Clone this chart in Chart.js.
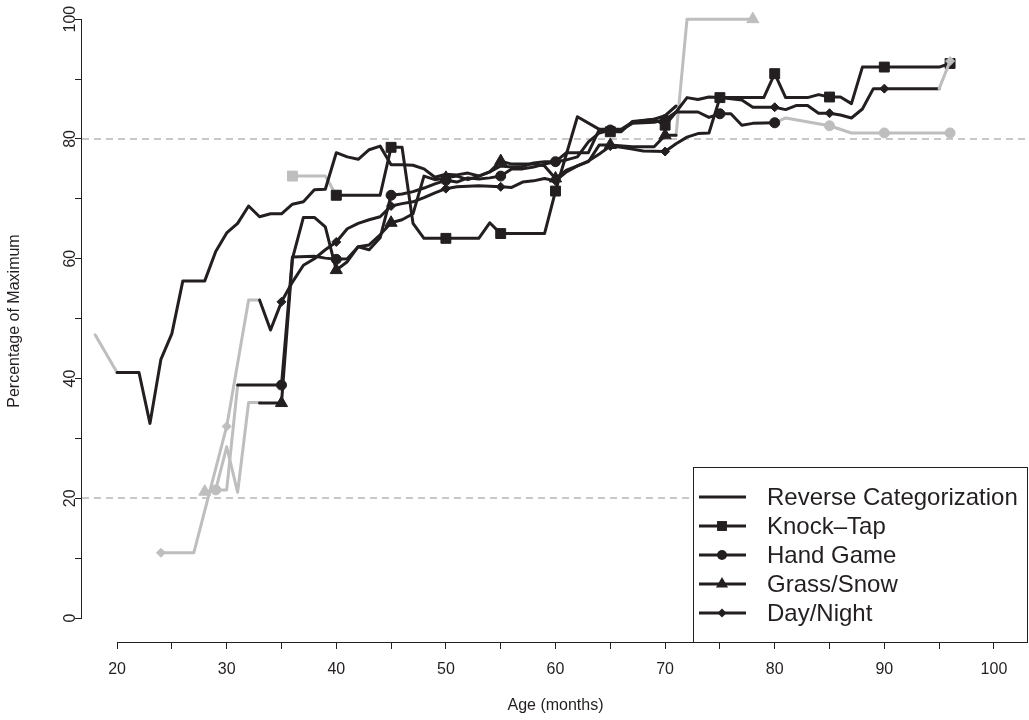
<!DOCTYPE html>
<html>
<head>
<meta charset="utf-8">
<script src="https://cdn.jsdelivr.net/npm/chart.js@4.4.1/dist/chart.umd.min.js"></script>
<style>
  html, body { margin: 0; padding: 0; background: #fff; overflow: hidden; }
  #wrap { position: relative; width: 1029px; height: 720px; }
</style>
</head>
<body>
<div id="wrap"><canvas id="myChart"></canvas></div>
<script>
// ---- data (age in months, percentage of maximum) ----
const categories = ['Reverse Categorization', 'Knock\u2013Tap', 'Hand Game', 'Grass/Snow', 'Day/Night'];

// Reverse Categorization
const rcGreyAge = [18, 20];
const rcGreyVal = [47.3, 41.0];
const rcAge = [20, 22, 23, 24, 25, 26, 28, 29, 30, 31, 32, 33, 34, 35, 36, 37, 38, 39, 40, 41, 42, 43, 44, 45, 46, 47, 48, 49, 50, 51, 52, 53, 54, 55, 56, 57, 58, 59, 60, 61, 63, 64, 66, 67, 69, 70, 71];
const rcVal = [41, 41, 32.5, 43.2, 47.5, 56.3, 56.3, 61.2, 64.3, 65.9, 68.8, 67, 67.5, 67.5, 69.1, 69.5, 71.5, 71.6, 77.7, 77, 76.6, 78.2, 78.8, 75.7, 75.7, 75.6, 75, 73.6, 74.1, 74, 74.3, 73.8, 74.5, 75.5, 75.3, 75.4, 76, 76.2, 76.2, 77.7, 77.7, 81.6, 81.6, 82.8, 83.3, 83.9, 85.5];

// Knock-Tap
const ktGreyAge = [36, 39, 40];
const ktGreyVal = [73.8, 73.8, 70.6];
const ktAge = [40, 44, 45, 46, 47, 48, 50, 53, 54, 55, 59, 60, 62, 64, 65, 66, 67, 69, 70, 71, 72, 73, 74, 75, 79, 80, 81, 83, 84, 85, 86, 87, 88, 90, 95, 96];
const ktVal = [70.6, 70.6, 78.6, 78.6, 65.9, 63.4, 63.4, 63.4, 66, 64.2, 64.2, 71.3, 83.7, 81.6, 81.2, 81.2, 82.9, 83.3, 82.3, 84.5, 86.9, 86.6, 87, 86.9, 86.9, 90.9, 86.9, 86.9, 87.4, 87, 87, 85.9, 92, 92, 92, 92.6];
const ktMarks = [36, 40, 45, 50, 55, 60, 65, 70, 75, 80, 85, 90, 96];

// Hand Game
const hgGreyAge = [29, 30, 31];
const hgGreyVal = [21.4, 21.4, 38.9];
const hgAge = [31, 35, 36, 38, 39, 40, 41, 42, 43, 44, 45, 46, 47, 48, 49, 50, 51, 52, 53, 54, 55, 56, 57, 58, 59, 60, 61, 62, 63, 64, 65, 66, 67, 68, 69, 70, 71, 73, 74, 75, 76, 77, 78, 80];
const hgVal = [38.9, 38.9, 60.3, 60.4, 60.1, 59.9, 60, 62, 61.5, 63.5, 70.6, 70.8, 71.2, 71.8, 72.5, 73.1, 72.8, 73.5, 73.3, 73.5, 73.8, 75, 75, 75.3, 75.8, 76.2, 76.5, 77, 79.5, 81, 81.5, 81.5, 82.6, 82.7, 82.8, 83.2, 84.5, 84.5, 83.6, 84.2, 84.2, 82.3, 82.6, 82.7];
const hgLateAge = [80, 81, 85, 87, 90, 96];
const hgLateVal = [82.7, 83.5, 82.2, 81, 81, 81];
const hgMarks = [29, 35, 40, 45, 50, 55, 60, 65, 70, 75, 80, 85, 90, 96];

// Grass/Snow
const gsGreyAge = [28, 29, 30, 31, 32, 33];
const gsGreyVal = [21.1, 21.4, 28.6, 21, 36, 36];
const gsAge = [33, 35, 36, 37, 38, 39, 40, 41, 42, 43, 44, 45, 46, 47, 48, 49, 50, 51, 52, 53, 54, 55, 56, 58, 59, 60, 61, 63, 64, 65, 67, 69, 70, 71];
const gsVal = [35.9, 35.9, 60, 66.9, 66.9, 65.3, 58.1, 59.5, 62, 62.3, 64, 66, 66.5, 67.5, 73.8, 73.2, 73.5, 73.8, 73.2, 73.8, 74.5, 76.3, 75.8, 75.8, 75.5, 73.4, 74.8, 76.2, 79, 79, 78.7, 78.7, 80.6, 80.6];
const gsLateAge = [71, 72, 78];
const gsLateVal = [80.6, 100, 100];
const gsMarks = [28, 35, 40, 45, 50, 55, 60, 65, 70, 78];

// Day/Night
const dnGreyAge = [24, 27, 30, 32, 33];
const dnGreyVal = [10.9, 10.9, 32, 53.1, 53.1];
const dnAge = [33, 34, 35, 36, 37, 38, 39, 40, 41, 42, 43, 44, 45, 46, 47, 48, 49, 50, 51, 53, 55, 56, 57, 58, 59, 60, 61, 62, 63, 64, 65, 66, 67, 68, 70, 71, 72, 73, 74, 75, 77, 78, 80, 81, 82, 83, 84, 85, 86, 87, 88, 89, 90, 95];
const dnVal = [53.1, 48.1, 52.8, 56.1, 58.9, 60, 61.5, 62.8, 65, 65.9, 66.5, 67, 68.8, 69.2, 69.5, 70.2, 71, 71.7, 72, 72.2, 72, 71.9, 72.8, 73, 73.4, 73, 74.5, 75.5, 76.3, 77.5, 78.8, 78.6, 78.3, 78, 77.9, 79.2, 80.3, 80.9, 81, 86.9, 86.5, 85.3, 85.3, 84.9, 85.6, 85.6, 84.3, 84.3, 84, 83.5, 85, 88.4, 88.4, 88.4];
const dnLateAge = [95, 96];
const dnLateVal = [88.4, 93];
const dnMarks = [24, 30, 35, 40, 45, 50, 55, 60, 65, 70, 75, 80, 85, 90, 96];

const xTicks = [20, 25, 30, 35, 40, 45, 50, 55, 60, 65, 70, 75, 80, 85, 90, 95, 100];
const yTicks = [0, 10, 20, 30, 40, 50, 60, 70, 80, 90, 100];
const yLabels = [0, 20, 40, 60, 80, 100];
const refLines = [20, 80];

// ---- styling ----
const BLACK = '#231f20';
const GREY = '#bebebe';
const FONT = '"Liberation Sans", Arial, Helvetica, sans-serif';
const styles = [null, 'rect', 'circle', 'triangle', 'rectRot'];
const radii = [0, 7, 5, 7, 4.5];

function pts(ages, vals) {
  return ages.map((a, i) => ({x: a, y: vals[i]}));
}

function series(label, ages, vals, color, k, marks, order) {
  return {
    label: label,
    data: pts(ages, vals),
    borderColor: color,
    backgroundColor: color,
    borderWidth: 3,
    borderJoinStyle: 'round',
    borderCapStyle: 'round',
    tension: 0,
    pointStyle: styles[k] || 'circle',
    pointRadius: c => (c.raw && styles[k] && marks.includes(c.raw.x)) ? radii[k] : 0,
    pointBackgroundColor: color,
    pointBorderColor: color,
    pointBorderWidth: 1,
    order: order
  };
}

function drawMarker(ctx, style, x, y, r) {
  ctx.beginPath();
  if (style === 'circle') {
    ctx.arc(x, y, r, 0, Math.PI * 2);
  } else if (style === 'rect') {
    const s = r * Math.SQRT1_2;
    ctx.rect(x - s, y - s, 2 * s, 2 * s);
  } else if (style === 'triangle') {
    ctx.moveTo(x, y - r);
    ctx.lineTo(x + r * 0.866, y + r * 0.5);
    ctx.lineTo(x - r * 0.866, y + r * 0.5);
    ctx.closePath();
  } else if (style === 'rectRot') {
    ctx.moveTo(x, y - r);
    ctx.lineTo(x + r, y);
    ctx.lineTo(x, y + r);
    ctx.lineTo(x - r, y);
    ctx.closePath();
  }
  ctx.fill();
}

const extras = {
  id: 'extras',
  beforeDatasetsDraw(chart) {
    const ctx = chart.ctx, a = chart.chartArea, ys = chart.scales.y;
    ctx.save();
    ctx.strokeStyle = '#c8c8c8';
    ctx.lineWidth = 2;
    ctx.setLineDash([7, 5]);
    refLines.forEach(v => {
      const py = Math.round(ys.getPixelForValue(v));
      ctx.beginPath();
      ctx.moveTo(a.left, py);
      ctx.lineTo(a.right, py);
      ctx.stroke();
    });
    ctx.restore();
  },
  afterDraw(chart) {
    const ctx = chart.ctx, a = chart.chartArea, xs = chart.scales.x, ys = chart.scales.y;
    ctx.save();
    // axis lines, only between first and last tick
    ctx.strokeStyle = BLACK;
    ctx.lineWidth = 1;
    ctx.beginPath();
    ctx.moveTo(xs.getPixelForValue(xTicks[0]), a.bottom + 0.5);
    ctx.lineTo(xs.getPixelForValue(xTicks[xTicks.length - 1]), a.bottom + 0.5);
    ctx.moveTo(a.left - 0.5, ys.getPixelForValue(yTicks[0]));
    ctx.lineTo(a.left - 0.5, ys.getPixelForValue(yTicks[yTicks.length - 1]));
    ctx.stroke();

    // rotated y tick labels
    ctx.fillStyle = BLACK;
    ctx.font = '16px ' + FONT;
    ctx.textAlign = 'center';
    ctx.textBaseline = 'alphabetic';
    yLabels.forEach(v => {
      ctx.save();
      ctx.translate(a.left - 7, ys.getPixelForValue(v));
      ctx.rotate(-Math.PI / 2);
      ctx.fillText(String(v), 0, 0);
      ctx.restore();
    });

    // legend box in the bottom right corner
    const right = a.right - 1, bottom = a.bottom;
    const left = right - 335, top = bottom - 175;
    ctx.fillStyle = '#fff';
    ctx.fillRect(left, top, right - left, bottom - top);
    ctx.strokeStyle = BLACK;
    ctx.strokeRect(left + 0.5, top + 0.5, right - left - 1, bottom - top);
    ctx.font = '24px ' + FONT;
    ctx.textAlign = 'left';
    ctx.textBaseline = 'middle';
    categories.forEach((name, i) => {
      const y = top + 30 + i * 29;
      ctx.strokeStyle = BLACK;
      ctx.lineWidth = 3;
      ctx.beginPath();
      ctx.moveTo(left + 6, y);
      ctx.lineTo(left + 53, y);
      ctx.stroke();
      ctx.fillStyle = BLACK;
      if (styles[i]) drawMarker(ctx, styles[i], left + 29, y, radii[i]);
      ctx.fillText(name, left + 74, y + 1);
    });
    ctx.restore();
  }
};

const ctx = document.getElementById('myChart').getContext('2d');

const myChart = new Chart(ctx, {
  type: 'line',
  data: {
    datasets: [
      series(categories[0], rcAge, rcVal, BLACK, 0, [], 1),
      series(categories[1], ktAge, ktVal, BLACK, 1, ktMarks, 1),
      series(categories[2], hgAge, hgVal, BLACK, 2, hgMarks, 1),
      series(categories[3], gsAge, gsVal, BLACK, 3, gsMarks, 1),
      series(categories[4], dnAge, dnVal, BLACK, 4, dnMarks, 1),
      series(categories[0], rcGreyAge, rcGreyVal, GREY, 0, [], 2),
      series(categories[1], ktGreyAge, ktGreyVal, GREY, 1, ktMarks, 2),
      series(categories[2], hgGreyAge, hgGreyVal, GREY, 2, hgMarks, 2),
      series(categories[2], hgLateAge, hgLateVal, GREY, 2, hgMarks, 2),
      series(categories[3], gsGreyAge, gsGreyVal, GREY, 3, gsMarks, 2),
      series(categories[3], gsLateAge, gsLateVal, GREY, 3, gsMarks, 2),
      series(categories[4], dnGreyAge, dnGreyVal, GREY, 4, dnMarks, 2),
      series(categories[4], dnLateAge, dnLateVal, GREY, 4, dnMarks, 0)
    ]
  },
  options: {
    responsive: true,
    maintainAspectRatio: false,
    animation: false,
    events: [],
    layout: { padding: 0, autoPadding: false },
    plugins: {
      legend: { display: false },
      tooltip: { enabled: false }
    },
    scales: {
      x: {
        type: 'linear',
        min: 16.8,
        max: 103.2,
        afterBuildTicks: s => { s.ticks = xTicks.map(v => ({value: v})); },
        afterFit: s => { s.height = 78; s.paddingLeft = 0; s.paddingRight = 0; },
        ticks: {
          autoSkip: false,
          maxRotation: 0,
          padding: 11,
          color: BLACK,
          font: { family: FONT, size: 16 },
          callback: v => (v % 10 === 0 ? String(v) : '')
        },
        grid: { drawOnChartArea: false, drawTicks: true, tickLength: 7, color: BLACK, lineWidth: 1 },
        border: { display: false },
        title: {
          display: true,
          text: 'Age (months)',
          color: BLACK,
          font: { family: FONT, size: 16 },
          padding: { top: 0, bottom: 5 }
        }
      },
      y: {
        type: 'linear',
        min: -4,
        max: 103.2,
        afterBuildTicks: s => { s.ticks = yTicks.map(v => ({value: v})); },
        afterFit: s => { s.width = 82; s.paddingTop = 0; s.paddingBottom = 0; },
        ticks: { display: false },
        grid: { drawOnChartArea: false, drawTicks: true, tickLength: 7, color: BLACK, lineWidth: 1 },
        border: { display: false },
        title: {
          display: true,
          text: 'Percentage of Maximum',
          color: BLACK,
          font: { family: FONT, size: 16 },
          padding: { top: 5, bottom: 0 }
        }
      }
    }
  },
  plugins: [extras]
});
</script>
</body>
</html>
